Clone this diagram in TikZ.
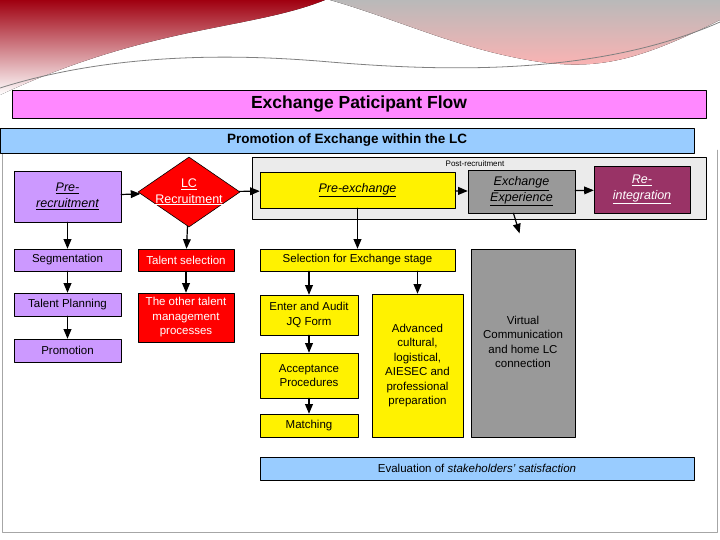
\documentclass[tikz,border=0pt]{standalone}
\usepackage{fontspec}
\setmainfont{Liberation Sans}
\usetikzlibrary{arrows,shapes.geometric}
\definecolor{lilac}{HTML}{CC99FF}
\definecolor{pinkbar}{HTML}{FF88FF}
\definecolor{skybar}{HTML}{99CCFF}
\definecolor{wine}{HTML}{993366}
\definecolor{darkred}{HTML}{A00010}
\newcommand{\ul}[1]{\underline{#1}}

\begin{document}
\begin{tikzpicture}[line cap=round,line join=round,>=triangle 45,x=1pt,y=-1pt,
  box/.style={draw=black,line width=0.6pt,inner sep=1pt,align=center,font=\fontsize{11.5}{14.5}\selectfont},
  arr/.style={->,line width=1.2pt}]
\useasboundingbox (0,0) rectangle (720,540);
% header swoosh
\fill[top color=darkred,bottom color=white] (0,0) -- (325,0) .. controls (250,30) and (150,25) .. (0,95) -- cycle;
\fill[top color=gray!55,bottom color=red!30] (330,0) -- (720,0) -- (720,20) .. controls (640,60) and (600,70) .. (540,62) .. controls (460,50) and (400,20) .. (330,0) -- cycle;
\draw[gray,line width=0.8pt] (0,88) .. controls (120,50) and (250,55) .. (330,62) .. controls (450,72) and (600,75) .. (720,22);
\draw[gray!70] (2,150) -- (2,532) -- (717,532) -- (717,150);
% bars
\node[box,fill=pinkbar,minimum width=694,minimum height=28,font=\fontsize{17.5}{20}\selectfont\bfseries] (title) at (359,104) {Exchange Paticipant Flow};
\node[box,fill=skybar,minimum width=694,minimum height=25,font=\fontsize{13.5}{15}\selectfont\bfseries] (promobar) at (347,140.5) {Promotion of Exchange within the LC};
\node[draw=black,fill=black!8,minimum width=454,minimum height=62,inner sep=0] (post) at (479,188) {};
\node[font=\fontsize{8}{9}\selectfont,inner sep=0] (postlbl) at (475,164) {Post-recruitment};
% top row
\node[box,fill=lilac,minimum width=107,minimum height=51,font=\fontsize{12.5}{15.5}\selectfont\itshape] (pre) at (67.5,196.5) {\ul{Pre-}\\\ul{recruitment}};
\node[box,diamond,fill=red,minimum width=102,minimum height=70,inner sep=0] (lc) at (189,192) {};
\node[text=white,align=center,font=\fontsize{12.5}{15.5}\selectfont] (lclbl) at (189,192) {\ul{LC}\\\ul{Recruitment}};
\node[box,fill=yellow,minimum width=195,minimum height=36,font=\fontsize{12.5}{15.5}\selectfont\itshape] (preex) at (357.5,190) {\ul{Pre-exchange}};
\node[box,fill=black!40,minimum width=107,minimum height=43,font=\fontsize{12.5}{15.5}\selectfont\itshape] (exexp) at (521.5,191.5) {\ul{Exchange}\\\ul{Experience}};
\node[box,fill=wine,text=white,minimum width=96,minimum height=47,font=\fontsize{12.5}{15.5}\selectfont\itshape] (reint) at (642,189.5) {\ul{Re-}\\\ul{integration}};
% lower boxes
\node[box,fill=lilac,minimum width=107,minimum height=22] (seg) at (67.5,260) {Segmentation};
\node[box,fill=lilac,minimum width=107,minimum height=23] (tplan) at (67.5,304.5) {Talent Planning};
\node[box,fill=lilac,minimum width=107,minimum height=23] (promo) at (67.5,350.5) {Promotion};
\node[box,fill=red,text=white,minimum width=96,minimum height=22] (talsel) at (186,260) {Talent selection};
\node[box,fill=red,text=white,minimum width=96,minimum height=49] (other) at (186,317.5) {The other talent\\management\\processes};
\node[box,fill=yellow,minimum width=195,minimum height=22] (selex) at (357.5,260) {Selection for Exchange stage};
\node[box,fill=yellow,minimum width=98,minimum height=40] (enter) at (309,315) {Enter and Audit\\JQ Form};
\node[box,fill=yellow,minimum width=98,minimum height=45] (accept) at (309,375.5) {Acceptance\\Procedures};
\node[box,fill=yellow,minimum width=98,minimum height=23] (match) at (309,425.5) {Matching};
\node[box,fill=yellow,minimum width=91,minimum height=143] (adv) at (417.5,365.5) {Advanced\\cultural,\\logistical,\\AIESEC and\\professional\\preparation};
\node[box,fill=black!40,minimum width=104,minimum height=188] (virt) at (523,343) {};
\node[align=center,font=\fontsize{11.5}{14.5}\selectfont] (virtlbl) at (523,342) {Virtual\\Communication\\and home LC\\connection};
\node[box,fill=skybar,minimum width=434,minimum height=23] (eval) at (477,468.5) {Evaluation of \textit{stakeholders' satisfaction}};
% connectors
\draw[arr] (pre) -- (lc);
\draw[arr] (lc) -- (preex);
\draw[arr] (preex) -- (exexp);
\draw[arr] (exexp) -- (reint);
\draw[arr] (pre) -- (seg);
\draw[arr] (seg) -- (tplan);
\draw[arr] (tplan) -- (promo);
\draw[arr] (lc) -- (talsel);
\draw[arr] (talsel) -- (other);
\draw[arr] (preex) -- (selex);
\draw[arr] (selex.south -| enter.north) -- (enter);
\draw[arr] (selex.south -| adv.north) -- (adv);
\draw[arr] (enter) -- (accept);
\draw[arr] (accept) -- (match);
\draw[arr] ([xshift=-8]exexp.south) -- ([xshift=-2,yshift=-20]exexp.south);
\end{tikzpicture}
\end{document}
